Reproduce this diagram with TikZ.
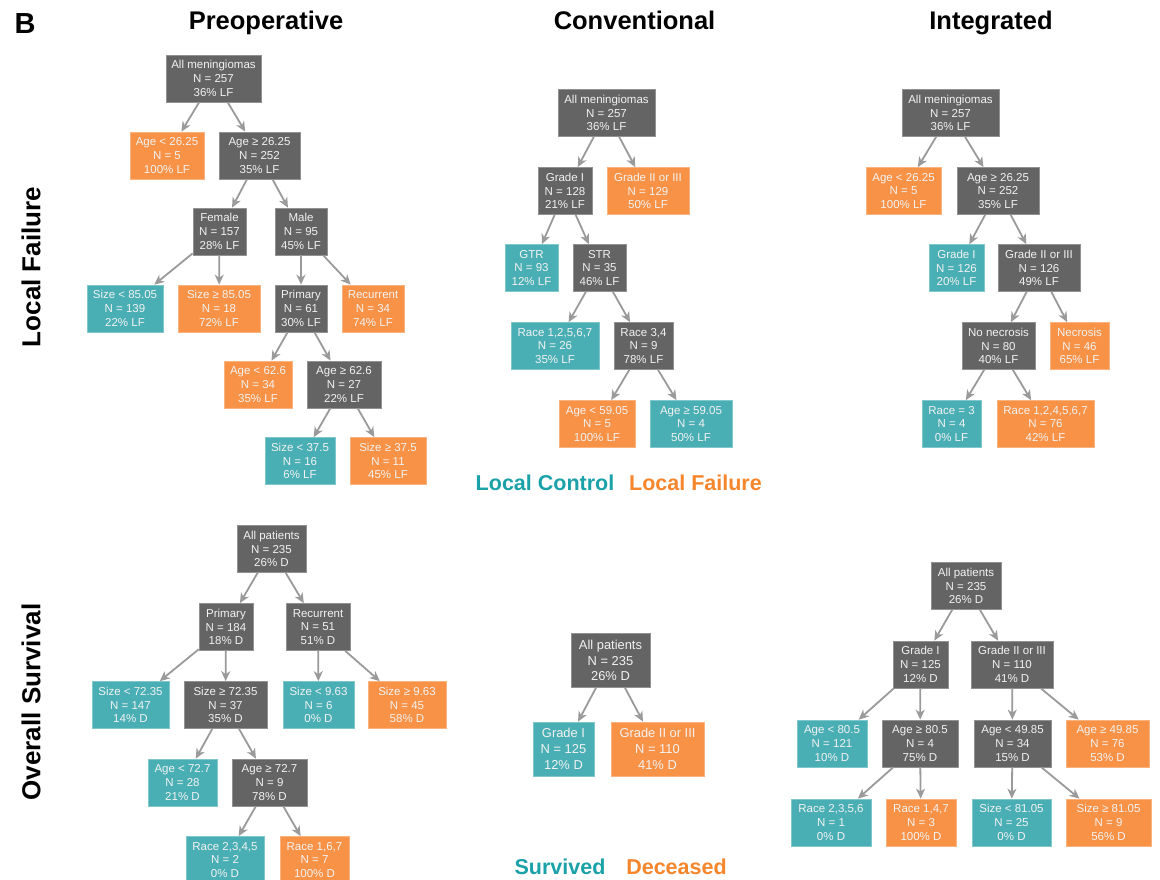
\documentclass[tikz,border=0pt]{standalone}
\usepackage{fontspec}
\setmainfont{Liberation Sans}
\usetikzlibrary{arrows.meta}
\definecolor{gfill}{HTML}{646464}
\definecolor{ofill}{HTML}{F79246}
\definecolor{tfill}{HTML}{4AAFB4}
\definecolor{arrowgray}{HTML}{9A9A9A}
\definecolor{txtw}{HTML}{F2F2F2}
\definecolor{legt}{HTML}{1BA2A9}
\definecolor{lego}{HTML}{F5862C}
\tikzset{
  basebox/.style={rectangle, minimum height=47pt, inner xsep=1pt, inner ysep=0pt,
    align=center, text=txtw, line width=0.7pt,
    font=\fontsize{11.5}{13.7}\selectfont},
  gb/.style={basebox, fill=gfill, draw=gfill!70!white},
  ob/.style={basebox, fill=ofill, draw=ofill!70!white},
  tb/.style={basebox, fill=tfill, draw=tfill!70!white},
  big/.style={minimum height=54pt, font=\fontsize{12.9}{15.8}\selectfont},
  ar/.style={draw=arrowgray, line width=1.8pt, -{Stealth[length=10pt, width=9pt, inset=3pt]}},
  ttl/.style={font=\bfseries\fontsize{25.5}{28}\selectfont, anchor=base, inner sep=0pt},
  side/.style={font=\bfseries\fontsize{26}{28}\selectfont, rotate=90, inner sep=0pt},
  leg/.style={font=\bfseries\fontsize{21.5}{24}\selectfont, inner sep=0pt}
}
\begin{document}
\begin{tikzpicture}[x=1pt,y=-1pt]
\useasboundingbox[fill=white] (0,0) rectangle (1160,880);
% titles
\node[ttl, font=\bfseries\fontsize{29}{30}\selectfont] (B) at (25,33.5) {B};
\node[ttl] (t1) at (266,30) {Preoperative};
\node[ttl] (t2) at (634.5,30) {Conventional};
\node[ttl] (t3) at (991,30) {Integrated};
\node[side] (s1) at (31,267) {Local Failure};
\node[side] (s2) at (31,702) {Overall Survival};
% legends
\node[leg, text=legt] (l1) at (545,483) {Local Control};
\node[leg, text=lego] (l2) at (695.5,483) {Local Failure};
\node[leg, text=legt] (l3) at (560,867) {Survived};
\node[leg, text=lego] (l4) at (676.5,867) {Deceased};

% Preoperative LF
\node[gb, minimum width=95pt] (p1) at (213.5,78.5) {All meningiomas\\N = 257\\36\% LF};
\node[ob, minimum width=74pt] (p2) at (167,155.5) {Age < 26.25\\N = 5\\100\% LF};
\node[gb, minimum width=81pt] (p3) at (259.5,155.5) {Age ≥ 26.25\\N = 252\\35\% LF};
\node[gb, minimum width=53pt] (p4) at (219.5,231.5) {Female\\N = 157\\28\% LF};
\node[gb, minimum width=52pt] (p5) at (301,231.5) {Male\\N = 95\\45\% LF};
\node[tb, minimum width=76pt] (p6) at (125,308.5) {Size < 85.05\\N = 139\\22\% LF};
\node[ob, minimum width=82pt] (p7) at (219,308.5) {Size ≥ 85.05\\N = 18\\72\% LF};
\node[gb, minimum width=52pt] (p8) at (301,308.5) {Primary\\N = 61\\30\% LF};
\node[ob, minimum width=62pt] (p9) at (373,308.5) {Recurrent\\N = 34\\74\% LF};
\node[ob, minimum width=68pt] (p10) at (258,384.5) {Age < 62.6\\N = 34\\35\% LF};
\node[gb, minimum width=74pt] (p11) at (344,384.5) {Age ≥ 62.6\\N = 27\\22\% LF};
\node[tb, minimum width=70pt] (p12) at (300,461) {Size < 37.5\\N = 16\\6\% LF};
\node[ob, minimum width=76pt] (p13) at (388,461) {Size ≥ 37.5\\N = 11\\45\% LF};
\foreach \a/\b in {p1/p2,p1/p3,p3/p4,p3/p5,p4/p6,p4/p7,p5/p8,p5/p9,p8/p10,p8/p11,p11/p12,p11/p13}
  \draw[ar] (\a) -- (\b);

% Conventional LF
\node[gb, minimum width=97pt] (c1) at (606.5,113) {All meningiomas\\N = 257\\36\% LF};
\node[gb, minimum width=54pt] (c2) at (565,191) {Grade I\\N = 128\\21\% LF};
\node[ob, minimum width=82pt] (c3) at (648,191) {Grade II or III\\N = 129\\50\% LF};
\node[tb, minimum width=53pt] (c4) at (531.5,268) {GTR\\N = 93\\12\% LF};
\node[gb, minimum width=53pt] (c5) at (599.5,268) {STR\\N = 35\\46\% LF};
\node[tb, minimum width=88pt] (c6) at (555,346) {Race 1,2,5,6,7\\N = 26\\35\% LF};
\node[gb, minimum width=59pt] (c7) at (643.5,346) {Race 3,4\\N = 9\\78\% LF};
\node[ob, minimum width=76pt] (c8) at (597,424) {Age < 59.05\\N = 5\\100\% LF};
\node[tb, minimum width=82pt] (c9) at (691,424) {Age ≥ 59.05\\N = 4\\50\% LF};
\foreach \a/\b in {c1/c2,c1/c3,c2/c4,c2/c5,c5/c6,c5/c7,c7/c8,c7/c9}
  \draw[ar] (\a) -- (\b);

% Integrated LF
\node[gb, minimum width=97pt] (i1) at (950.5,113) {All meningiomas\\N = 257\\36\% LF};
\node[ob, minimum width=75pt] (i2) at (903.5,191) {Age < 26.25\\N = 5\\100\% LF};
\node[gb, minimum width=82pt] (i3) at (998,191) {Age ≥ 26.25\\N = 252\\35\% LF};
\node[tb, minimum width=55pt] (i4) at (956.5,268) {Grade I\\N = 126\\20\% LF};
\node[gb, minimum width=82pt] (i5) at (1039,268) {Grade II or III\\N = 126\\49\% LF};
\node[gb, minimum width=73pt] (i6) at (998.5,346) {No necrosis\\N = 80\\40\% LF};
\node[ob, minimum width=59pt] (i7) at (1079.5,346) {Necrosis\\N = 46\\65\% LF};
\node[tb, minimum width=59pt] (i8) at (951.5,424) {Race = 3\\N = 4\\0\% LF};
\node[ob, minimum width=97pt] (i9) at (1045.5,424) {Race 1,2,4,5,6,7\\N = 76\\42\% LF};
\foreach \a/\b in {i1/i2,i1/i3,i3/i4,i3/i5,i5/i6,i5/i7,i6/i8,i6/i9}
  \draw[ar] (\a) -- (\b);

% Preoperative OS
\node[gb, minimum width=69pt] (q1) at (271.5,549) {All patients\\N = 235\\26\% D};
\node[gb, minimum width=54pt] (q2) at (226,627) {Primary\\N = 184\\18\% D};
\node[gb, minimum width=64pt] (q3) at (318,627) {Recurrent\\N = 51\\51\% D};
\node[tb, minimum width=77pt] (q4) at (130.5,705) {Size < 72.35\\N = 147\\14\% D};
\node[gb, minimum width=83pt] (q5) at (225.5,705) {Size ≥ 72.35\\N = 37\\35\% D};
\node[tb, minimum width=71pt] (q6) at (318.5,705) {Size < 9.63\\N = 6\\0\% D};
\node[ob, minimum width=78pt] (q7) at (407,705) {Size ≥ 9.63\\N = 45\\58\% D};
\node[tb, minimum width=69pt] (q8) at (182.5,782.5) {Age < 72.7\\N = 28\\21\% D};
\node[gb, minimum width=75pt] (q9) at (269.5,782.5) {Age ≥ 72.7\\N = 9\\78\% D};
\node[tb, minimum width=78pt] (q10) at (225,860) {Race 2,3,4,5\\N = 2\\0\% D};
\node[ob, minimum width=69pt] (q11) at (314.5,860) {Race 1,6,7\\N = 7\\100\% D};
\foreach \a/\b in {q1/q2,q1/q3,q2/q4,q2/q5,q3/q6,q3/q7,q5/q8,q5/q9,q9/q10,q9/q11}
  \draw[ar] (\a) -- (\b);

% Conventional OS
\node[gb, big, minimum width=79pt] (d1) at (610.5,660.5) {All patients\\N = 235\\26\% D};
\node[tb, big, minimum width=61pt] (d2) at (563.5,749) {Grade I\\N = 125\\12\% D};
\node[ob, big, minimum width=93pt] (d3) at (657.5,749) {Grade II or III\\N = 110\\41\% D};
\foreach \a/\b in {d1/d2,d1/d3}
  \draw[ar] (\a) -- (\b);

% Integrated OS
\node[gb, minimum width=70pt] (j1) at (966,586) {All patients\\N = 235\\26\% D};
\node[gb, minimum width=55pt] (j2) at (920.5,664.5) {Grade I\\N = 125\\12\% D};
\node[gb, minimum width=82pt] (j3) at (1012,664.5) {Grade II or III\\N = 110\\41\% D};
\node[tb, minimum width=70pt] (j4) at (832,743.5) {Age < 80.5\\N = 121\\10\% D};
\node[gb, minimum width=76pt] (j5) at (920,743.5) {Age ≥ 80.5\\N = 4\\75\% D};
\node[gb, minimum width=77pt] (j6) at (1012.5,743.5) {Age < 49.85\\N = 34\\15\% D};
\node[ob, minimum width=83pt] (j7) at (1107.5,743.5) {Age ≥ 49.85\\N = 76\\53\% D};
\node[tb, minimum width=80pt] (j8) at (831,822.5) {Race 2,3,5,6\\N = 1\\0\% D};
\node[ob, minimum width=70pt] (j9) at (921,822.5) {Race 1,4,7\\N = 3\\100\% D};
\node[tb, minimum width=79pt] (j10) at (1011.5,822.5) {Size < 81.05\\N = 25\\0\% D};
\node[ob, minimum width=85pt] (j11) at (1108.5,822.5) {Size ≥ 81.05\\N = 9\\56\% D};
\foreach \a/\b in {j1/j2,j1/j3,j2/j4,j2/j5,j3/j6,j3/j7,j5/j8,j5/j9,j6/j10,j6/j11}
  \draw[ar] (\a) -- (\b);
\end{tikzpicture}
\end{document}
